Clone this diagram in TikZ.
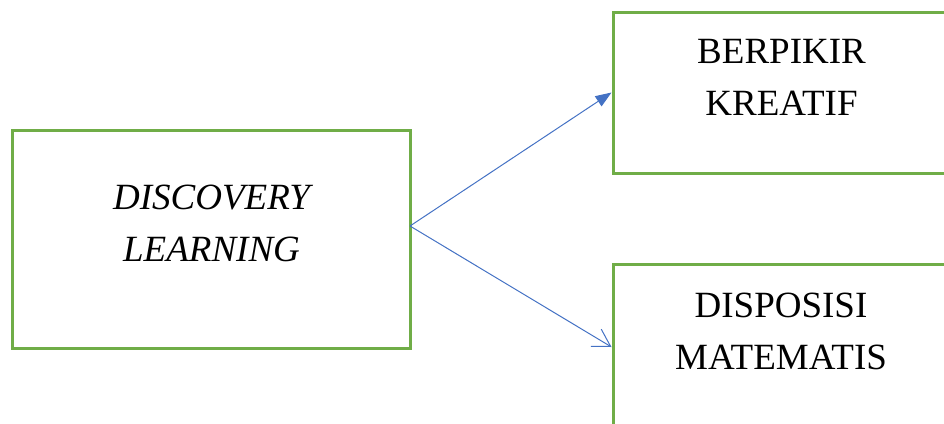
\documentclass[tikz,border=0pt]{standalone}
\usepackage{fontspec}
\setmainfont{Liberation Serif}
\usetikzlibrary{arrows.meta}
\definecolor{boxgreen}{HTML}{70AD47}
\definecolor{arrowblue}{HTML}{4472C4}
\begin{document}
\begin{tikzpicture}[x=1pt,y=-1pt,
  box/.style={draw=boxgreen, line width=3pt, rectangle, inner sep=0pt},
  lbl/.style={inner sep=0pt, align=center, font=\fontsize{37}{52}\selectfont},
  conn/.style={draw=arrowblue, line width=1pt}
]
\useasboundingbox (0,0) rectangle (944,423);
\begin{scope}
\clip (0,0) rectangle (944,423);
\node[box, minimum width=398pt, minimum height=218pt] (L) at (211,239) {};
\node[box, minimum width=338pt, minimum height=161pt] (T) at (782,92.5) {};
\node[box, minimum width=338pt, minimum height=166pt] (B) at (782,347) {};
\end{scope}
\node[lbl, font=\fontsize{37}{52}\selectfont\itshape] (Ltxt) at (211.5,223.5) {DISCOVERY\\LEARNING};
\node[lbl] (Ttxt) at (781.5,77.5) {BERPIKIR\\KREATIF};
\node[lbl] (Btxt) at (781,331.5) {DISPOSISI\\MATEMATIS};
\coordinate (src) at (410,226);
\draw[conn, -{Triangle[length=16pt, width=12pt]}] (src) -- (T.west);
\draw[conn, -{Straight Barb[length=17pt, width=20pt, line width=1pt]}] (src) -- (B.west);
\end{tikzpicture}
\end{document}
